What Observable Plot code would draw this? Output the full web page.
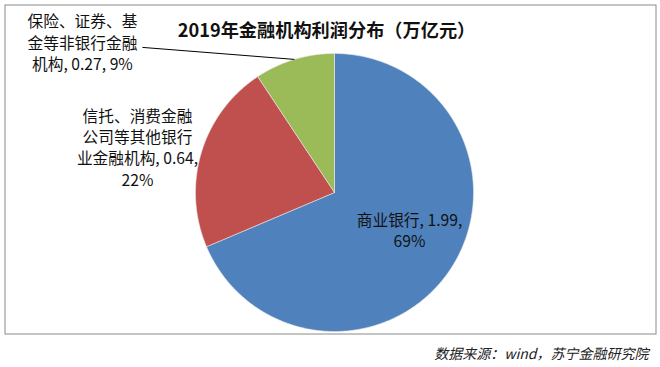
<!DOCTYPE html>
<html><head><meta charset="utf-8">
<script src="https://cdn.jsdelivr.net/npm/d3@7"></script>
<script src="https://cdn.jsdelivr.net/npm/@observablehq/plot@0.6"></script>
<style>body{margin:0;background:#fff}</style>
</head><body><div id="chart"></div>
<script>
// ---- data ----
const categories = ["商业银行", "信托、消费金融公司等其他银行业金融机构", "保险、证券、基金等非银行金融机构"];
const values = [1.99, 0.64, 0.27];
const percents = ["69%", "22%", "9%"];
const labelLines = [
  ["商业银行, 1.99,", "69%"],
  ["信托、消费金融", "公司等其他银行", "业金融机构, 0.64,", "22%"],
  ["保险、证券、基", "金等非银行金融", "机构, 0.27, 9%"]
];
const colors = ["#4F81BD", "#C0504D", "#9BBB59"];
const titleText = "2019年金融机构利润分布（万亿元）";
const sourceText = "数据来源：wind，苏宁金融研究院";

// ---- layout ----
const W = 660, H = 367, cx = 334, cy = 192, R = 139;
const font = "'Noto Sans CJK SC', 'Noto Sans', sans-serif";

const rows = categories.map((name, i) => ({name, value: values[i], pct: percents[i], label: labelLines[i].join("\n")}));
const arcs = d3.pie().sort(null).value(d => d.value)(rows);

const pts = [];
arcs.forEach(a => {
  const n = Math.max(4, Math.ceil((a.endAngle - a.startAngle) / (Math.PI / 360)));
  pts.push({slice: a.data.name, x: cx, y: cy});
  for (let i = 0; i <= n; i++) {
    const t = a.startAngle + (a.endAngle - a.startAngle) * i / n;
    pts.push({slice: a.data.name, x: cx + R * Math.sin(t), y: cy - R * Math.cos(t)});
  }
  pts.push({slice: a.data.name, x: cx, y: cy});
});

// label placement: radial factor along slice mid-angle plus nudge
const labelPlace = [{k: 0.6, dx: 5.5, dy: -9}, {k: 1.45, dx: -4, dy: 12.5}, {k: 1.0, dx: -212, dy: -17.5}];
const labels = arcs.map((a, i) => {
  const m = (a.startAngle + a.endAngle) / 2, p = labelPlace[i];
  return {
    text: a.data.label,
    mid: m,
    x: cx + R * p.k * Math.sin(m) + p.dx,
    y: cy - R * p.k * Math.cos(m) + p.dy
  };
});
// leader line for the small slice
const g = labels[2];
const leader = [{x1: g.x + 60, y1: g.y + 5.5, x2: cx + R * Math.sin(g.mid), y2: cy - R * Math.cos(g.mid)}];

const chart = Plot.plot({
  width: W, height: H,
  margin: 0,
  style: {background: "#fff", fontFamily: font},
  x: {domain: [0, W], range: [0, W], axis: null},
  y: {domain: [0, H], range: [0, H], axis: null},
  color: {domain: categories, range: colors},
  marks: [
    Plot.frame({stroke: "#8a8a8a", strokeWidth: 1, insetLeft: 4.5, insetTop: 4.5, insetRight: 4.5, insetBottom: 33.5}),
    Plot.line(pts, {x: "x", y: "y", z: "slice", fill: "slice", stroke: "#e8e8e8", strokeWidth: 0.6, curve: "linear"}),
    Plot.link(leader, {x1: "x1", y1: "y1", x2: "x2", y2: "y2", stroke: "#000", strokeWidth: 1}),
    Plot.text(labels, {x: "x", y: "y", text: "text", fontSize: 15.7, lineHeight: 1.36, fill: "#111", textAnchor: "middle"}),
    Plot.text([titleText], {x: () => 326, y: () => 31, text: d => d, fontSize: 18.2, fontWeight: "bold", fill: "#111"}),
    Plot.text([sourceText], {x: () => 648, y: () => 354, text: d => d, fontSize: 14, fontStyle: "italic", textAnchor: "end", fill: "#222"})
  ]
});
document.getElementById("chart").appendChild(chart);
</script>
</body></html>
